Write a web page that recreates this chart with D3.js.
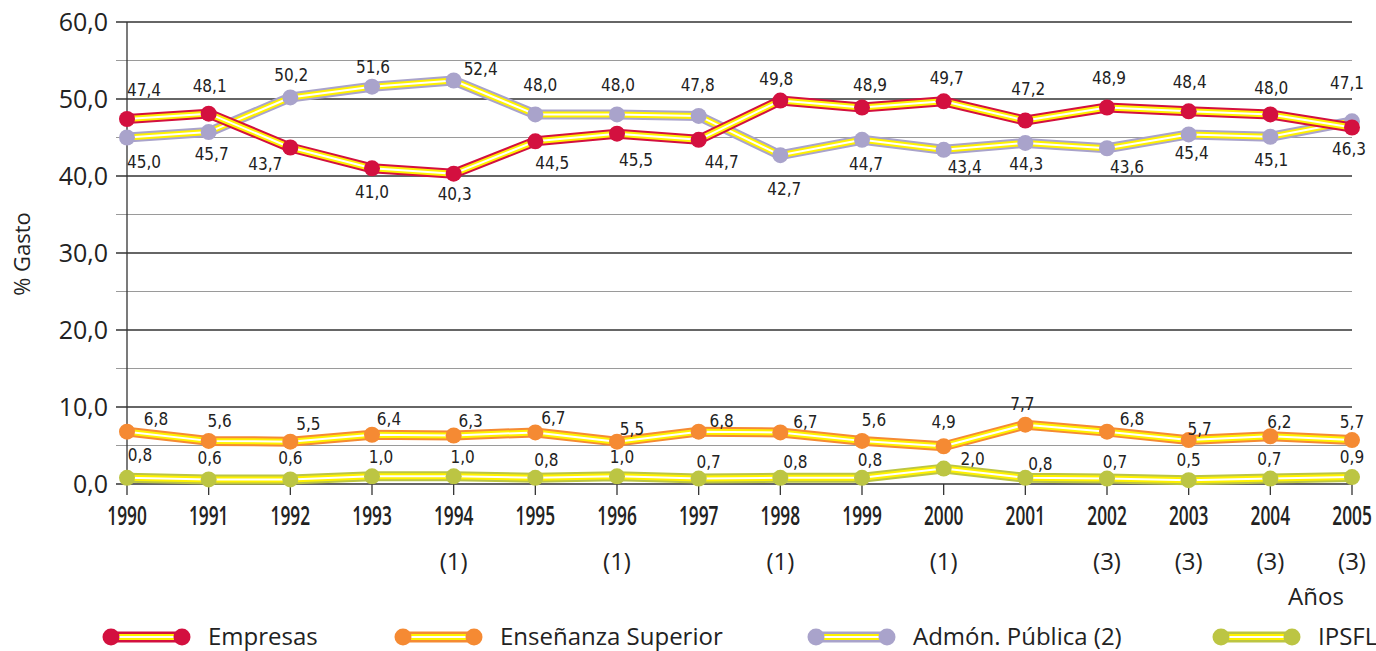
<!DOCTYPE html>
<html>
<head>
<meta charset="utf-8">
<script src="https://cdn.jsdelivr.net/npm/d3@7"></script>
<style>
  html, body { margin: 0; padding: 0; background: #fff; }
  svg { display: block; }
</style>
</head>
<body>
<svg id="chart" width="1376" height="651"></svg>
<script>
// ---------------- data ----------------
const years = ["1990","1991","1992","1993","1994","1995","1996","1997","1998","1999","2000","2001","2002","2003","2004","2005"];
const footnotes = ["","","","","(1)","","(1)","","(1)","","(1)","","(3)","(3)","(3)","(3)"];
const empresas  = [47.4,48.1,43.7,41.0,40.3,44.5,45.5,44.7,49.8,48.9,49.7,47.2,48.9,48.4,48.0,46.3];
const ensenanza = [6.8,5.6,5.5,6.4,6.3,6.7,5.5,6.8,6.7,5.6,4.9,7.7,6.8,5.7,6.2,5.7];
const admon     = [45.0,45.7,50.2,51.6,52.4,48.0,48.0,47.8,42.7,44.7,43.4,44.3,43.6,45.4,45.1,47.1];
const ipsfl     = [0.8,0.6,0.6,1.0,1.0,0.8,1.0,0.7,0.8,0.8,2.0,0.8,0.7,0.5,0.7,0.9];
const seriesNames = ["Empresas","Enseñanza Superior","Admón. Pública (2)","IPSFL"];
const yTicks = [0,10,20,30,40,50,60];
const yMinor = [5,15,25,35,45,55];
const yTitle = "% Gasto";
const xTitle = "Años";

// ---------------- layout (label placement, not data) ----------------
const empDx = [17,1,-25,0,1,17,19,23,-4,8,3,3,2,1,1,-3];
const empDy = [-23,-22,22,30,26,28,32,28,-16,-16,-17,-26,-23,-23,-20,28];
const admDx = [17,3,1,1,27,5,1,-1,4,4,21,1,20,3,1,-5];
const admDy = [30,28,-16,-14,-6,-23,-23,-25,40,30,23,27,25,25,29,-32];
const ensDx = [29,11,18,17,17,18,15,23,25,12,0,-3,25,11,9,0];
const ensDy = [-7,-14,-12,-10,-8,-8,-7,-5,-4,-15,-18,-15,-7,-5,-8,-12];
const ipsDx = [13,1,0,9,9,11,5,10,15,8,29,15,8,0,-1,0];
const ipsDy = [-17,-15,-15,-13,-13,-12,-13,-11,-10,-12,-4,-8,-11,-14,-14,-14];

const colors = { emp: "#d3103f", ens: "#f58a33", adm: "#a9a3cb", ips: "#bcc543" };
const yellow = "#fff200";

const svg = d3.select("#chart");
const plotLeft = 127, plotRight = 1352, plotTop = 22, plotBottom = 484;

const x = d3.scalePoint().domain(years).range([plotLeft, plotRight]);
const y = d3.scaleLinear().domain([0, 60]).range([plotBottom, plotTop]);
const fmt = v => d3.format(".1f")(v).replace(".", ",");

const LABEL_FONT = "'DejaVu Sans Condensed', 'Liberation Sans Narrow', sans-serif";
const MAIN_FONT = "'Open Sans', Lato, sans-serif";

// grid
const g = svg.append("g");
g.selectAll("line.minor").data(yMinor).enter().append("line")
  .attr("x1", 116).attr("x2", plotRight)
  .attr("y1", d => y(d)).attr("y2", d => y(d))
  .attr("stroke", "#9a9a9a").attr("stroke-width", 1.2);
g.selectAll("line.major").data(yTicks).enter().append("line")
  .attr("x1", 116).attr("x2", plotRight)
  .attr("y1", d => y(d)).attr("y2", d => y(d))
  .attr("stroke", "#333").attr("stroke-width", 1.3);

// y axis line
g.append("line").attr("x1", plotLeft).attr("x2", plotLeft).attr("y1", plotTop).attr("y2", plotBottom)
  .attr("stroke", "#333").attr("stroke-width", 1.3);

// y tick labels
g.selectAll("text.ytick").data(yTicks).enter().append("text")
  .attr("x", 108).attr("y", d => y(d) + 9)
  .attr("text-anchor", "end")
  .attr("font-family", MAIN_FONT).attr("font-size", 25)
  .attr("fill", "#222")
  .text(d => fmt(d));

// x ticks
g.selectAll("line.xtick").data(years).enter().append("line")
  .attr("x1", d => x(d)).attr("x2", d => x(d))
  .attr("y1", plotBottom).attr("y2", plotBottom + 11)
  .attr("stroke", "#333").attr("stroke-width", 1.3);

g.selectAll("text.xtick").data(years).enter().append("text")
  .attr("transform", d => `translate(${x(d)},525) scale(0.64,1)`)
  .attr("text-anchor", "middle")
  .attr("font-family", MAIN_FONT).attr("font-weight", 600).attr("font-size", 27)
  .attr("fill", "#222")
  .text(d => d);

g.selectAll("text.foot").data(years).enter().append("text")
  .attr("x", d => x(d)).attr("y", 570)
  .attr("text-anchor", "middle")
  .attr("font-family", MAIN_FONT).attr("font-size", 24)
  .attr("fill", "#222")
  .text((d, i) => footnotes[i]);

// axis titles
svg.append("text")
  .attr("transform", "translate(30,254) rotate(-90)")
  .attr("text-anchor", "middle")
  .attr("font-family", MAIN_FONT).attr("font-size", 22)
  .attr("fill", "#222")
  .text(yTitle);

svg.append("text")
  .attr("x", 1316).attr("y", 605)
  .attr("text-anchor", "middle")
  .attr("font-family", MAIN_FONT).attr("font-size", 24)
  .attr("fill", "#222")
  .text(xTitle);

// series
const line = d3.line().x((d, i) => x(years[i])).y(d => y(d)).curve(d3.curveLinear);

function drawSeries(values, color) {
  const sg = svg.append("g");
  sg.append("path").attr("d", line(values)).attr("fill", "none")
    .attr("stroke", color).attr("stroke-width", 10).attr("stroke-linejoin", "round");
  sg.append("path").attr("d", line(values)).attr("fill", "none")
    .attr("stroke", yellow).attr("stroke-width", 6).attr("stroke-linejoin", "round");
  sg.append("path").attr("d", line(values)).attr("fill", "none")
    .attr("stroke", "#fff").attr("stroke-width", 2).attr("stroke-linejoin", "round");
  sg.selectAll("circle").data(values).enter().append("circle")
    .attr("cx", (d, i) => x(years[i])).attr("cy", d => y(d)).attr("r", 8)
    .attr("fill", color);
  return sg;
}

function drawLabels(values, dxArr, dyArr) {
  svg.append("g").selectAll("text").data(values).enter().append("text")
    .attr("x", (d, i) => x(years[i]) + dxArr[i])
    .attr("y", (d, i) => y(d) + dyArr[i])
    .attr("text-anchor", "middle")
    .attr("font-family", LABEL_FONT).attr("font-size", 17)
    .attr("fill", "#222")
    .text(d => fmt(d));
}

drawSeries(ipsfl, colors.ips);
drawSeries(ensenanza, colors.ens);
drawSeries(admon, colors.adm);
drawSeries(empresas, colors.emp);

drawLabels(ipsfl, ipsDx, ipsDy);
drawLabels(ensenanza, ensDx, ensDy);
drawLabels(admon, admDx, admDy);
drawLabels(empresas, empDx, empDy);

// legend
const legendItems = [
  { name: seriesNames[0], color: colors.emp, x0: 111 },
  { name: seriesNames[1], color: colors.ens, x0: 403 },
  { name: seriesNames[2], color: colors.adm, x0: 816 },
  { name: seriesNames[3], color: colors.ips, x0: 1221 }
];
const ly = 637;
const lg = svg.append("g").selectAll("g").data(legendItems).enter().append("g");
lg.append("line").attr("x1", d => d.x0).attr("x2", d => d.x0 + 71).attr("y1", ly).attr("y2", ly)
  .attr("stroke", d => d.color).attr("stroke-width", 11);
lg.append("line").attr("x1", d => d.x0).attr("x2", d => d.x0 + 71).attr("y1", ly).attr("y2", ly)
  .attr("stroke", yellow).attr("stroke-width", 6);
lg.append("line").attr("x1", d => d.x0).attr("x2", d => d.x0 + 71).attr("y1", ly).attr("y2", ly)
  .attr("stroke", "#fff").attr("stroke-width", 2);
lg.append("circle").attr("cx", d => d.x0).attr("cy", ly).attr("r", 8.5).attr("fill", d => d.color);
lg.append("circle").attr("cx", d => d.x0 + 71).attr("cy", ly).attr("r", 8.5).attr("fill", d => d.color);
lg.append("text").attr("x", d => d.x0 + 97).attr("y", ly + 8)
  .attr("font-family", MAIN_FONT).attr("font-size", 24).attr("fill", "#222")
  .text(d => d.name);
</script>
</body>
</html>
